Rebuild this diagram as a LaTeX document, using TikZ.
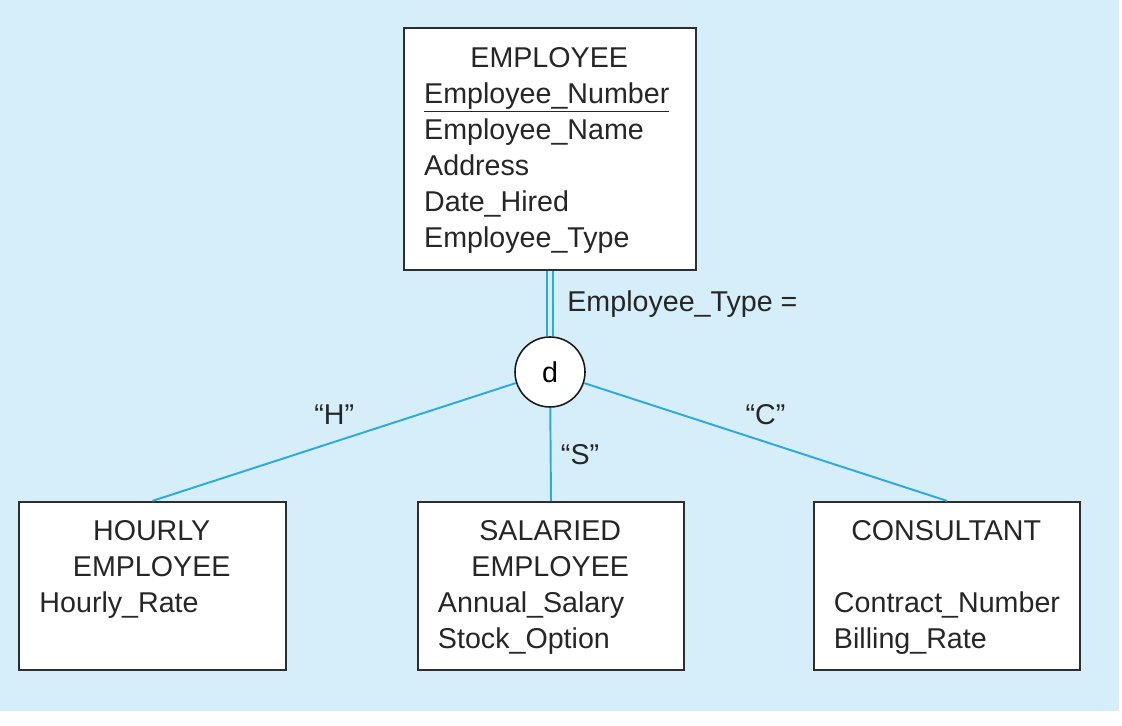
\documentclass[tikz,border=0pt]{standalone}
\usepackage{fontspec}
\setmainfont{Liberation Sans}
\usetikzlibrary{positioning}
\definecolor{bgblue}{HTML}{D6EEF9}
\definecolor{linkblue}{HTML}{29ABE2}
\definecolor{boxgray}{HTML}{2E2E2E}
\hyphenpenalty=10000
\newcommand{\erfont}{\fontsize{16.3}{20.5}\selectfont}

\tikzset{
	entity/.style={draw=boxgray, line width=1.3pt, fill=white, minimum width=5.33cm, minimum height=3.36cm, inner sep=0pt},
	attrs/.style={anchor=north west, inner sep=0pt, text width=4.49cm, font=\erfont, text=black!85},
	link/.style={draw=linkblue, line width=1.1pt},
	tag/.style={font=\erfont, text=black!85},
}

\begin{document}
\begin{tikzpicture}[x=0.02cm, y=-0.02cm]
		%%%%% START %%%%%
		\useasboundingbox (0, 0) rectangle (1122, 726);
		\fill[bgblue] (0, 0) rectangle (1119, 711);
		
		% supertype
		\node[entity, minimum width=5.84cm, minimum height=4.84cm] (employee) at (550, 149) {};
		\node[attrs, text width=5cm] (employee attrs) at ([xshift=0.42cm, yshift=-0.4cm]employee.north west)
			{\centering EMPLOYEE\par\raggedright\underline{Employee\_Number}\\Employee\_Name\\Address\\Date\_Hired\\Employee\_Type};
		
		% disjoint circle
		\node[draw=black!90, circle, fill=white, minimum size=1.4cm, inner sep=0pt, line width=0.9pt, font=\erfont] (d) at (550, 372) {d};
		\draw[link, double=bgblue, double distance=2.6pt] (employee.south) -- node[tag, right=6pt] (type label) {Employee\_Type =} (d.north);
		
		% subtypes
		\node[entity] (hourly) at (152.5, 586) {};
		\node[attrs] (hourly attrs) at ([xshift=0.42cm, yshift=-0.38cm]hourly.north west)
			{\centering HOURLY\\EMPLOYEE\par\raggedright Hourly\_Rate};
		
		\node[entity] (salaried) at (551, 586) {};
		\node[attrs] (salaried attrs) at ([xshift=0.42cm, yshift=-0.38cm]salaried.north west)
			{\centering SALARIED\\EMPLOYEE\par\raggedright Annual\_Salary\\Stock\_Option};
		
		\node[entity] (consultant) at (947, 586) {};
		\node[attrs] (consultant attrs) at ([xshift=0.42cm, yshift=-0.38cm]consultant.north west)
			{\centering CONSULTANT\\\mbox{}\par\raggedright Contract\_Number\\Billing\_Rate};
		
		\draw[link] (d) -- node[tag, above=6pt] (h label) {“H”} (hourly.north);
		\draw[link] (d) -- node[tag, right=2pt] (s label) {“S”} (salaried.north);
		\draw[link] (d) -- node[tag, above=6pt] (c label) {“C”} (consultant.north);
		%%%%% END %%%%%
\end{tikzpicture}
\end{document}
